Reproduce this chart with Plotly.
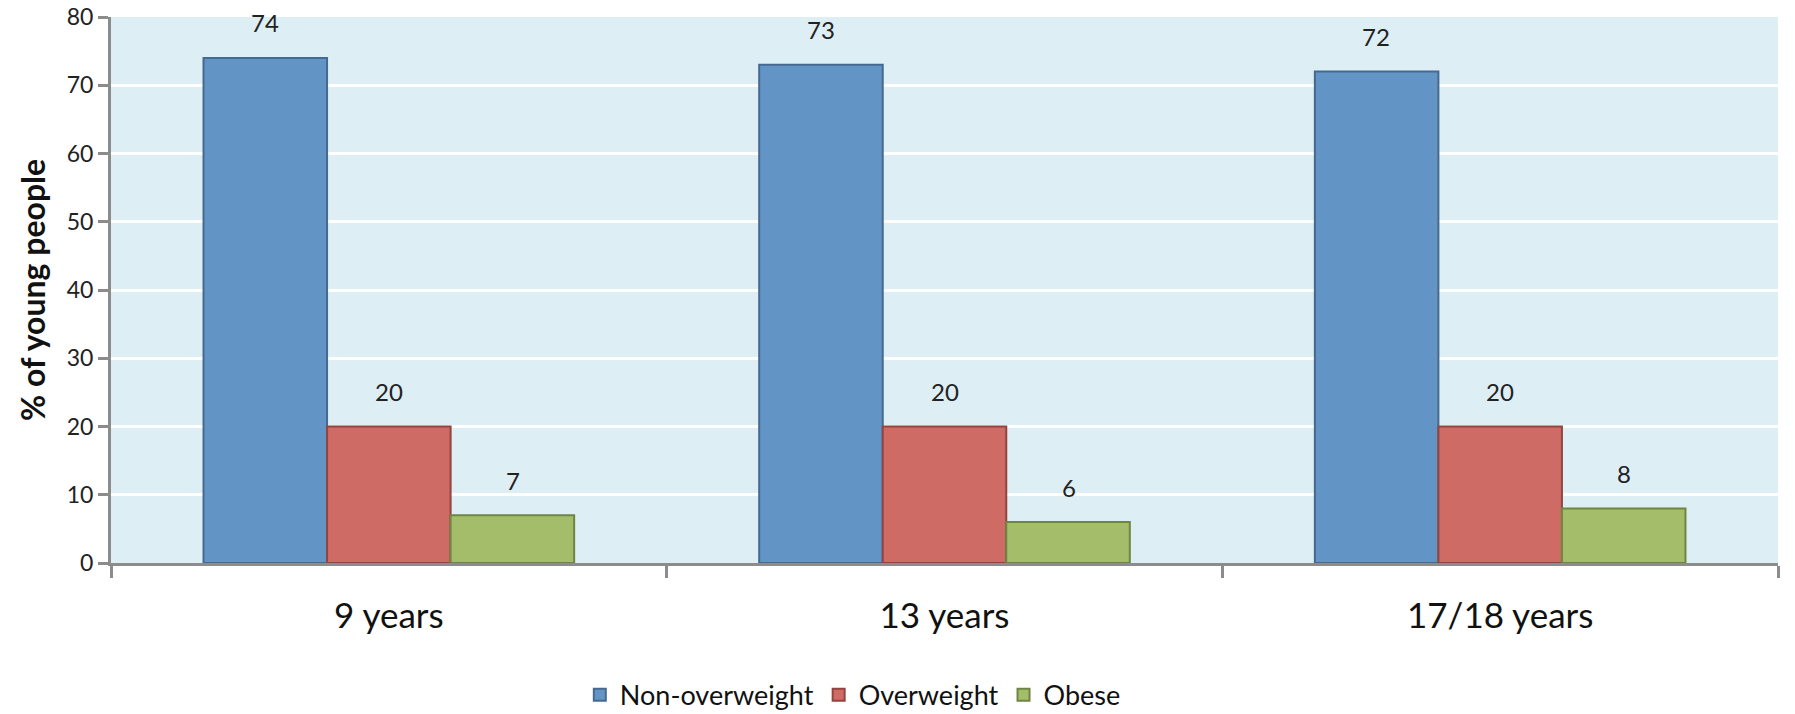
import plotly.graph_objects as go

categories = ["9 years", "13 years", "17/18 years"]
series_names = ["Non-overweight", "Overweight", "Obese"]
non_overweight = [74, 73, 72]
overweight = [20, 20, 20]
obese = [7, 6, 8]
y_ticks = [0, 10, 20, 30, 40, 50, 60, 70, 80]

colors = ["#6294C6", "#CD6B64", "#A3BD6B"]
edges = ["#46698F", "#93443E", "#6F8542"]
values = [non_overweight, overweight, obese]

FONT = "Lato"
fig = go.Figure()
for name, vals, c, e in zip(series_names, values, colors, edges):
    fig.add_trace(go.Bar(
        x=categories, y=vals, name=name,
        marker=dict(color=c, line=dict(color=e, width=2)),
    ))

bar_px = 124
shifts = [-bar_px, 0, bar_px]
annotations = []
for vals, s in zip(values, shifts):
    for cat, v in zip(categories, vals):
        annotations.append(dict(
            x=cat, y=v, xref="x", yref="y", text=str(v), showarrow=False,
            xshift=s, yshift=35, yanchor="middle",
            font=dict(family=FONT, size=24, color="#222222"),
        ))

fig.update_layout(
    width=1795, height=714,
    margin=dict(l=111, r=17, t=17, b=151, autoexpand=False),
    paper_bgcolor="white", plot_bgcolor="#DDEEF5",
    barmode="group", bargap=0.333, bargroupgap=0,
    showlegend=True,
    legend=dict(orientation="h", x=0.445, xanchor="center", y=-0.242, yanchor="middle",
                font=dict(family=FONT, size=27, color="#111111"),
                itemwidth=30, traceorder="normal"),
    annotations=annotations,
    font=dict(family=FONT),
)
fig.update_yaxes(
    range=[0, 80], tickvals=y_ticks, showgrid=True, gridcolor="white", gridwidth=3,
    showline=True, linecolor="#8C8C8C", linewidth=3,
    ticks="outside", ticklen=10, tickwidth=3, tickcolor="#8C8C8C",
    tickfont=dict(family=FONT, size=23, color="#222222"),
    title=dict(text="<b>% of young people</b>", font=dict(family=FONT, size=32, color="#111111"), standoff=12),
    zeroline=False, automargin=False,
)
fig.update_xaxes(
    showline=True, linecolor="#8C8C8C", linewidth=3,
    ticks="outside", tickson="boundaries", ticklen=12, tickwidth=3, tickcolor="#8C8C8C",
    tickfont=dict(family=FONT, size=35, color="#111111"),
    ticklabelstandoff=20,
    showgrid=False, automargin=False,
)
fig.write_html("out.html")
